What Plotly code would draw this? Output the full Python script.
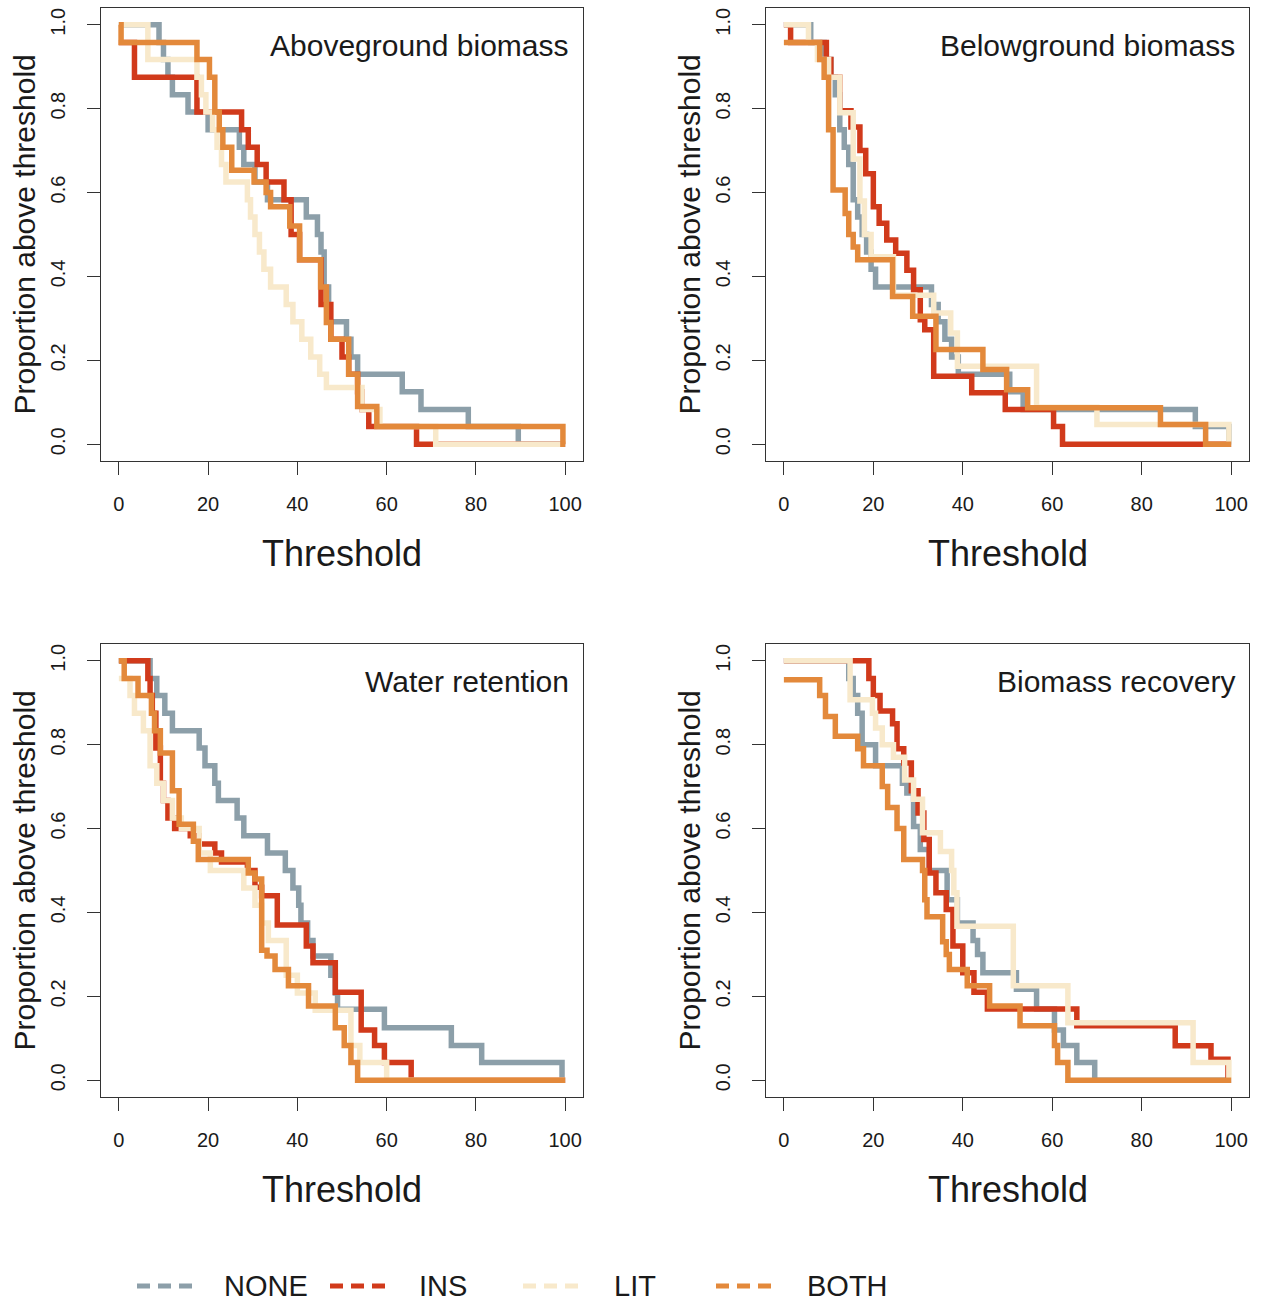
import plotly.graph_objects as go

W, H = 1266, 1302

# ---------------- data (threshold breakpoints, proportion above threshold) ----------------
SERIES = ["NONE", "INS", "LIT", "BOTH"]
PANEL_TITLES = ["Aboveground biomass", "Belowground biomass", "Water retention", "Biomass recovery"]
X_TICKS = [0, 20, 40, 60, 80, 100]
Y_TICKS = [0.0, 0.2, 0.4, 0.6, 0.8, 1.0]
Y_TICK_TEXT = ["0.0", "0.2", "0.4", "0.6", "0.8", "1.0"]

# Aboveground biomass
AG_NONE_X = [0, 9, 10, 11, 12, 15.5, 20, 27, 28, 30.5, 33.3, 42, 44.5, 45.3, 46, 47, 51, 52, 53.5, 63.5, 67.7, 78.3, 89.5, 100]
AG_NONE_Y = [1.0, .958, .917, .875, .833, .792, .75, .708, .667, .625, .583, .542, .5, .458, .375, .292, .25, .208, .167, .125, .083, .042, 0, 0]
AG_INS_X = [0, 3.5, 17.5, 27.5, 29, 31, 33, 37, 38.6, 40.5, 45.3, 47.5, 50, 51.5, 53.5, 54.5, 56, 66.7, 100]
AG_INS_Y = [.958, .875, .792, .75, .708, .667, .625, .583, .5, .44, .333, .25, .208, .167, .125, .083, .042, 0, 0]
AG_LIT_X = [0, 6.5, 17.5, 18.5, 19.5, 21, 22, 23, 24, 28.8, 29.5, 30.5, 31.5, 32.5, 34, 37.5, 39, 41, 43, 45, 46.5, 54.5, 58.5, 71, 100]
AG_LIT_Y = [1.0, .917, .875, .833, .792, .75, .708, .667, .625, .583, .542, .5, .458, .417, .375, .333, .292, .25, .208, .167, .135, .083, .042, 0, 0]
AG_BOTH_X = [0, 0.5, 17.5, 20.3, 21.5, 22.5, 23.3, 25.3, 30.3, 33, 34, 38.3, 40.5, 45.2, 46.5, 47.5, 51.5, 53.5, 57.8, 99.5, 100]
AG_BOTH_Y = [1.0, .958, .917, .875, .792, .75, .708, .653, .625, .6, .566, .52, .44, .375, .29, .25, .167, .09, .042, 0, 0]

# Belowground biomass
BG_NONE_X = [0, 6, 9, 10.5, 11.5, 12.5, 13.5, 14.5, 15.5, 16.5, 17.5, 18.5, 19.5, 20.5, 33, 34.5, 36, 37.5, 39, 50.5, 53.5, 92, 99.5, 100]
BG_NONE_Y = [1.0, .958, .917, .875, .833, .75, .708, .667, .583, .542, .5, .458, .417, .375, .333, .292, .25, .208, .167, .125, .083, .042, 0, 0]
BG_INS_X = [0, 1.5, 9.5, 10.5, 12.5, 15, 17, 18.3, 20, 21.3, 23, 25, 27.5, 29, 30.5, 31.5, 33.5, 42, 49.5, 60.3, 62.3, 100]
BG_INS_Y = [1.0, .958, .917, .875, .795, .756, .70, .645, .566, .527, .487, .455, .415, .368, .297, .273, .162, .123, .083, .042, 0, 0]
BG_LIT_X = [0, 5.5, 7.5, 10, 12.5, 15.5, 17, 18, 19.5, 24.5, 33.5, 37.3, 38.8, 56.5, 70, 99.5, 100]
BG_LIT_Y = [1.0, .958, .917, .875, .79, .68, .58, .5, .447, .355, .313, .265, .186, .088, .047, 0, 0]
BG_BOTH_X = [0, 8, 9, 10, 11, 13.7, 14.5, 15.5, 16.5, 24.3, 28.8, 34, 44.5, 49.8, 54.5, 84.2, 94.3, 100]
BG_BOTH_Y = [.958, .917, .875, .75, .606, .55, .5, .47, .44, .352, .305, .226, .178, .13, .087, .047, 0, 0]

# Water retention
WR_NONE_X = [0, 7, 8.5, 10.3, 12, 18, 19.3, 21.5, 22.3, 26.5, 28, 33.3, 37.3, 39, 40.3, 40.8, 42.3, 43.5, 47.5, 48.5, 49, 59.5, 74.5, 81.3, 99.3, 100]
WR_NONE_Y = [1.0, .958, .917, .875, .833, .792, .75, .708, .667, .625, .583, .542, .5, .458, .417, .375, .333, .296, .25, .208, .169, .125, .083, .042, 0, 0]
WR_INS_X = [0, 6.5, 7, 7.5, 8.3, 9.3, 10, 11, 12.5, 16, 18, 21.5, 23, 28.8, 30.5, 32, 35.5, 42, 43.5, 48.5, 54.3, 57.3, 59.5, 65.5, 100]
WR_INS_Y = [1.0, .958, .917, .875, .792, .708, .667, .625, .6, .583, .563, .542, .52, .5, .46, .44, .37, .32, .28, .21, .12, .083, .042, 0, 0]
WR_LIT_X = [0, 2.5, 3.5, 5.5, 7, 8.5, 10, 12, 14, 18, 20.5, 28, 30.5, 32, 33.5, 37.5, 40, 44, 52, 54, 60, 100]
WR_LIT_Y = [.958, .917, .875, .833, .75, .708, .667, .625, .6, .542, .5, .458, .417, .375, .333, .25, .208, .167, .083, .042, 0, 0]
WR_BOTH_X = [0, 1.2, 4.3, 7.3, 8, 9.3, 12, 13.5, 16.7, 17.8, 29, 30.5, 32, 33.2, 35, 38, 42.5, 48.5, 50.5, 52, 53.5, 100]
WR_BOTH_Y = [1.0, .958, .917, .875, .833, .78, .69, .61, .57, .526, .494, .48, .31, .296, .264, .225, .177, .125, .083, .042, 0, 0]

# Biomass recovery
BR_NONE_X = [0, 14.5, 15.5, 16.5, 17.5, 20.5, 26.5, 27.5, 29, 30.5, 32.5, 36.5, 38.8, 42.3, 43.3, 44.5, 52, 56.5, 60.5, 62.5, 65.5, 69.5, 100]
BR_NONE_Y = [1.0, .958, .917, .875, .8, .75, .708, .685, .605, .55, .5, .43, .375, .333, .3, .256, .217, .17, .12, .083, .042, 0, 0]
BR_INS_X = [0, 19, 20, 21.5, 24.3, 25.3, 26.8, 28.5, 30, 31.3, 32.5, 34, 36.3, 37.8, 40, 42.5, 45.5, 65.5, 87.5, 95.5, 99.3, 100]
BR_INS_Y = [1.0, .958, .917, .88, .85, .79, .756, .69, .637, .574, .494, .447, .407, .32, .256, .21, .17, .13, .082, .05, 0, 0]
BR_LIT_X = [0, 14.8, 19.8, 20.5, 22, 24.5, 27, 29, 31, 35, 37.5, 38, 38.7, 51.3, 63.5, 91.5, 99.5, 100]
BR_LIT_Y = [1.0, .907, .875, .84, .8, .77, .716, .67, .59, .545, .5, .447, .367, .225, .137, .042, 0, 0]
BR_BOTH_X = [0, 8, 9.3, 11.5, 16.5, 17.8, 22, 23.2, 25.3, 26.8, 31, 31.5, 32, 35.5, 36.3, 37, 41, 46, 52.8, 60.5, 61.2, 63.5, 100]
BR_BOTH_Y = [.955, .917, .867, .82, .79, .75, .7, .65, .6, .526, .5, .43, .39, .33, .3, .264, .225, .177, .13, .083, .042, 0, 0]

PANELS = [
    [(AG_NONE_X, AG_NONE_Y), (AG_INS_X, AG_INS_Y), (AG_LIT_X, AG_LIT_Y), (AG_BOTH_X, AG_BOTH_Y)],
    [(BG_NONE_X, BG_NONE_Y), (BG_INS_X, BG_INS_Y), (BG_LIT_X, BG_LIT_Y), (BG_BOTH_X, BG_BOTH_Y)],
    [(WR_NONE_X, WR_NONE_Y), (WR_INS_X, WR_INS_Y), (WR_LIT_X, WR_LIT_Y), (WR_BOTH_X, WR_BOTH_Y)],
    [(BR_NONE_X, BR_NONE_Y), (BR_INS_X, BR_INS_Y), (BR_LIT_X, BR_LIT_Y), (BR_BOTH_X, BR_BOTH_Y)],
]

# ---------------- styling ----------------
COLORS = {"NONE": "#8c9fa9", "INS": "#d13a1b", "LIT": "#f8e9cb", "BOTH": "#e3893b"}
FONT = "Liberation Sans, Arial, Helvetica, sans-serif"
TXT = "#1a1a1a"
AX = "#333333"

# panel boxes in pixels: (left, right, top, bottom)
BOXES = [(101, 583, 8, 461), (766, 1249, 8, 461), (101, 583, 644, 1097), (766, 1249, 644, 1097)]

def px(x):
    return x / W

def py(y):
    return 1 - y / H

fig = go.Figure()
layout = dict(
    width=W, height=H, margin=dict(l=0, r=0, t=0, b=0),
    paper_bgcolor="white", plot_bgcolor="white", showlegend=False,
    font=dict(family=FONT, color=TXT),
)
annotations = []
shapes = []

for i, (panel, box) in enumerate(zip(PANELS, BOXES)):
    n = "" if i == 0 else str(i + 1)
    xa, ya = "x" + n, "y" + n
    for name, (xs, ys) in zip(SERIES, panel):
        fig.add_trace(go.Scatter(
            x=xs, y=ys, mode="lines", name=name, xaxis=xa, yaxis=ya,
            line=dict(color=COLORS[name], width=5.5, shape="hv"),
            hoverinfo="skip",
        ))
    l, r, t, b = box
    layout["xaxis" + n] = dict(
        domain=[px(l), px(r)], anchor=ya, range=[-4, 104],
        tickvals=X_TICKS, ticks="outside", ticklen=13, tickwidth=1.3, tickcolor=AX,
        showline=True, mirror=True, linecolor=AX, linewidth=1.3,
        showgrid=False, zeroline=False, tickfont=dict(size=20, color=TXT, family=FONT),
        ticklabelstandoff=12,
    )
    layout["yaxis" + n] = dict(
        domain=[py(b), py(t)], anchor=xa, range=[-0.04, 1.04],
        tickvals=Y_TICKS, ticktext=Y_TICK_TEXT, tickangle=-90,
        ticks="outside", ticklen=13, tickwidth=1.3, tickcolor=AX,
        showline=True, mirror=True, linecolor=AX, linewidth=1.3,
        showgrid=False, zeroline=False, tickfont=dict(size=20, color=TXT, family=FONT),
        ticklabelstandoff=14,
    )
    # panel title
    annotations.append(dict(
        text=PANEL_TITLES[i], xref="paper", yref="paper", x=px(r - 12), y=py(t + 37),
        xanchor="right", yanchor="middle", showarrow=False,
        font=dict(size=30, color=TXT, family=FONT),
    ))
    # x axis title
    annotations.append(dict(
        text="Threshold", xref="paper", yref="paper", x=px((l + r) / 2), y=py(b + 92),
        xanchor="center", yanchor="middle", showarrow=False,
        font=dict(size=36, color=TXT, family=FONT),
    ))
    # y axis title
    annotations.append(dict(
        text="Proportion above threshold", xref="paper", yref="paper", x=px(l - 77), y=py((t + b) / 2),
        xanchor="center", yanchor="middle", showarrow=False, textangle=-90,
        font=dict(size=30, color=TXT, family=FONT),
    ))

# legend at bottom (dashed keys + labels)
LEG_KEYS = [(137, 192, 222), (330, 385, 417), (523, 578, 612), (716, 772, 805)]
LEG_Y = 1286
for name, (k0, k1, tx) in zip(SERIES, LEG_KEYS):
    shapes.append(dict(
        type="line", xref="paper", yref="paper", x0=px(k0), x1=px(k1), y0=py(LEG_Y), y1=py(LEG_Y),
        line=dict(color=COLORS[name], width=5, dash="13px,8px"),
    ))
    annotations.append(dict(
        text=name, xref="paper", yref="paper", x=px(tx), y=py(LEG_Y),
        xanchor="left", yanchor="middle", showarrow=False,
        font=dict(size=29, color=TXT, family=FONT),
    ))

layout["annotations"] = annotations
layout["shapes"] = shapes
fig.update_layout(**layout)
fig.write_html("out.html")
